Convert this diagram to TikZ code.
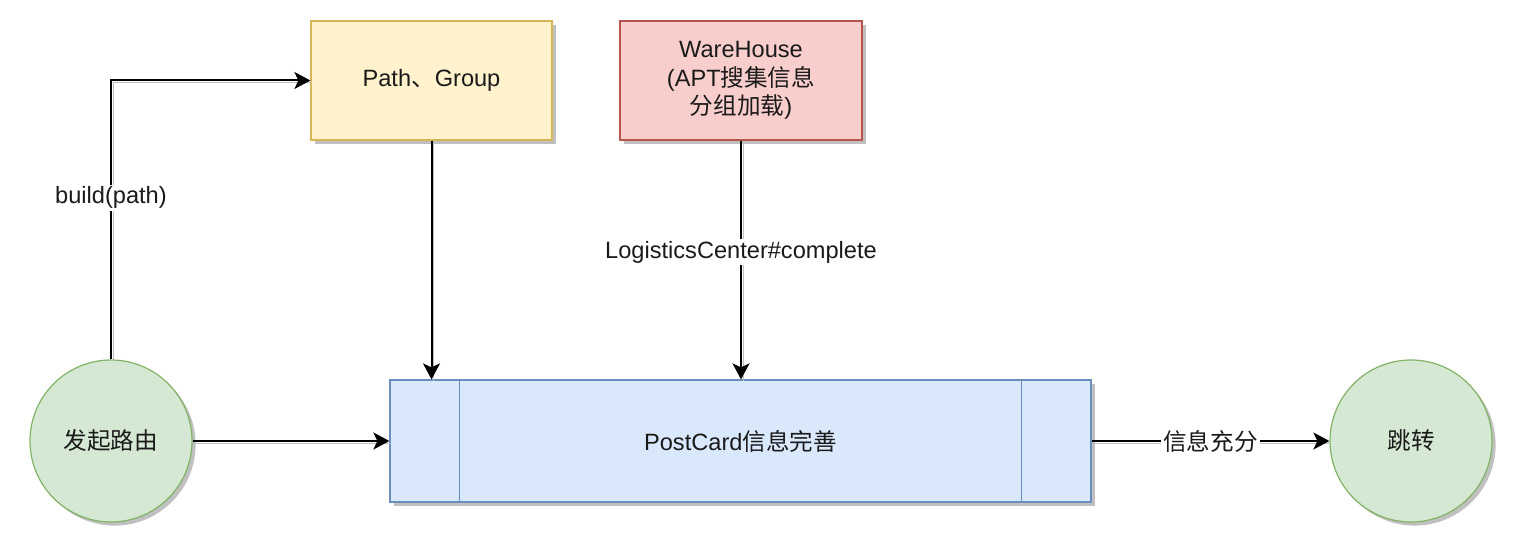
\documentclass[tikz,border=0pt]{standalone}
\usepackage{fontspec}
\setmainfont{Liberation Sans}
\newfontfamily\cjk{Noto Sans CJK SC}
\usetikzlibrary{arrows.meta,shadows}
\definecolor{ylwF}{HTML}{FFF2CC}
\definecolor{ylwD}{HTML}{D6B656}
\definecolor{redF}{HTML}{F8CECC}
\definecolor{redD}{HTML}{B85450}
\definecolor{grnF}{HTML}{D5E8D4}
\definecolor{grnD}{HTML}{82B366}
\definecolor{bluF}{HTML}{DAE8FC}
\definecolor{bluD}{HTML}{6C8EBF}
\definecolor{txt}{HTML}{1A1A1A}
\begin{document}
\begin{tikzpicture}[x=0.5pt,y=-0.5pt,
  every node/.style={font=\fontsize{11.8}{14.2}\selectfont, text=txt},
  shad/.style={drop shadow={shadow xshift=1.8pt,shadow yshift=-1.8pt,fill=black!45,opacity=0.55}},
  box/.style={rectangle, draw, line width=0.6pt, shad, align=center, inner sep=0pt},
  circ/.style={circle, draw=grnD, fill=grnF, line width=0.6pt, shad, minimum size=81pt, inner sep=0pt},
  conn/.style={draw=black, line width=1pt, -{Stealth[length=8pt,width=8.5pt,inset=2pt]},
    preaction={draw=black!25, -, transform canvas={shift={(1pt,-1pt)}}}},
  lbl/.style={fill=white, inner sep=1pt}]
\useasboundingbox (0,0) rectangle (1522,556);
\node[box, fill=ylwF, draw=ylwD, minimum width=120.5pt, minimum height=59.5pt] (pg) at (431.5,80.5) {Path{\cjk 、}Group};
\node[box, fill=redF, draw=redD, minimum width=121pt, minimum height=59.5pt] (wh) at (741,80.5) {WareHouse\\(APT{\cjk 搜集信息}\\{\cjk 分组加载})};
\node[box, fill=bluF, draw=bluD, minimum width=350.5pt, minimum height=61pt] (pc) at (740.5,441) {PostCard{\cjk 信息完善}};
\draw[bluD, line width=0.6pt] (pc.north west) ++(70,0) coordinate (pa) -- (pa |- pc.south);
\draw[bluD, line width=0.6pt] (pc.north east) ++(-70,0) coordinate (pb) -- (pb |- pc.south);
\node[circ] (c1) at (111,441) {\cjk 发起路由};
\node[circ] (c2) at (1411,441) {\cjk 跳转};
\draw[conn] (c1.north) |- node[lbl,pos=0.29]{build(path)} (pg.west);
\draw[conn] (pg.south) -- (pg.south |- pc.north);
\draw[conn] (wh.south) -- node[lbl,pos=0.467]{LogisticsCenter\#complete} (wh.south |- pc.north);
\draw[conn] (c1.east) -- (c1.east -| pc.west);
\draw[conn] (pc.east) -- node[lbl]{\cjk 信息充分} (pc.east -| c2.west);
\end{tikzpicture}
\end{document}
